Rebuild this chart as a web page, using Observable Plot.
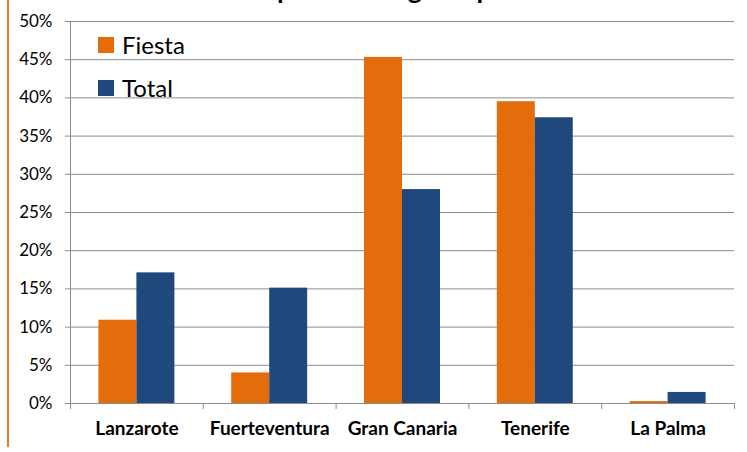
<!DOCTYPE html>
<html>
<head>
<meta charset="utf-8">
<script src="https://cdn.jsdelivr.net/npm/d3@7"></script>
<script src="https://cdn.jsdelivr.net/npm/@observablehq/plot@0.6"></script>
<style>
  html, body { margin: 0; padding: 0; background: #fff; }
  #wrap { position: relative; width: 747px; height: 452px; overflow: hidden; font-family: Lato, "Open Sans", sans-serif; }
  #chart { position: absolute; left: 0; top: 0; }
  #edge { position: absolute; left: 7px; top: 0; width: 1.5px; height: 447px; background: #E8782A; }
  .leg { position: absolute; left: 98px; display: flex; align-items: center; font-size: 24px; color: #000; line-height: 1; }
  .leg .sw { width: 16px; height: 16px; margin-right: 8px; }
  #titlesvg { position: absolute; left: 0; top: 0; overflow: visible; }
</style>
</head>
<body>
<div id="wrap">
  <div id="chart"></div>
  <svg id="titlesvg" width="747" height="10"><text id="title" y="-1.5" font-family="Lato, sans-serif" font-weight="bold" font-size="27" fill="#000">Turistas por islas según tipo</text></svg>
  <div id="edge"></div>
  <div id="legend"></div>
</div>
<script>
const islands = ["Lanzarote", "Fuerteventura", "Gran Canaria", "Tenerife", "La Palma"];
const fiesta = [10.9, 4.0, 45.3, 39.5, 0.25];
const total = [17.1, 15.1, 28.0, 37.4, 1.45];
const series = ["Fiesta", "Total"];
const colors = ["#E46C0A", "#1F497D"];
const yTicks = [0, 5, 10, 15, 20, 25, 30, 35, 40, 45, 50];

// layout of bars inside each island slot (fraction of the slot)
const slotPad = 0.214, barW = 0.286;
const rows = islands.flatMap((island, i) => [
  {i, island, series: "Fiesta", value: fiesta[i], k: 0},
  {i, island, series: "Total", value: total[i], k: 1}
]);

const grey = "#8C8C8C";
const chart = Plot.plot({
  width: 747,
  height: 452,
  marginLeft: 70,
  marginRight: 13,
  marginTop: 21,
  marginBottom: 49,
  x: {domain: [0, islands.length]},
  y: {domain: [0, 50]},
  color: {domain: series, range: colors},
  style: {fontFamily: "Lato, 'Open Sans', sans-serif", fontSize: "17px", color: "#000", background: "transparent"},
  marks: [
    Plot.gridY(yTicks, {stroke: grey, strokeOpacity: 1}),
    Plot.rect(rows, {
      x1: d => d.i + slotPad + d.k * barW,
      x2: d => d.i + slotPad + (d.k + 1) * barW,
      y1: 0,
      y2: "value",
      fill: "series"
    }),
    Plot.ruleY([0], {stroke: grey}),
    Plot.ruleX([0], {stroke: grey}),
    Plot.axisY({ticks: yTicks, tickSize: 5, tickPadding: 13, stroke: grey, tickFormat: d => d + "%", label: null, fill: "#000"}),
    Plot.axisX({ticks: d3.range(0, islands.length + 1), tickSize: 6, stroke: grey, tickFormat: () => "", label: null}),
    Plot.axisX({ticks: islands.map((_, i) => i + 0.5), tickSize: 0, tickPadding: 18, tickFormat: d => islands[Math.floor(d)], fontWeight: "bold", fontSize: 19, fill: "#000", label: null})
  ]
});
document.getElementById("chart").appendChild(chart);

// legend
const legend = document.getElementById("legend");
const legTops = [33, 76];
series.forEach((s, j) => {
  const el = document.createElement("div");
  el.className = "leg";
  el.style.top = legTops[j] + "px";
  el.innerHTML = `<div class="sw" style="background:${colors[j]}"></div><span>${s}</span>`;
  legend.appendChild(el);
});

// title (clipped at top edge as in the original)
const t = document.getElementById("title");
const pre = t.getSubStringLength(0, 9);
t.setAttribute("x", 277 - pre);
</script>
</body>
</html>
